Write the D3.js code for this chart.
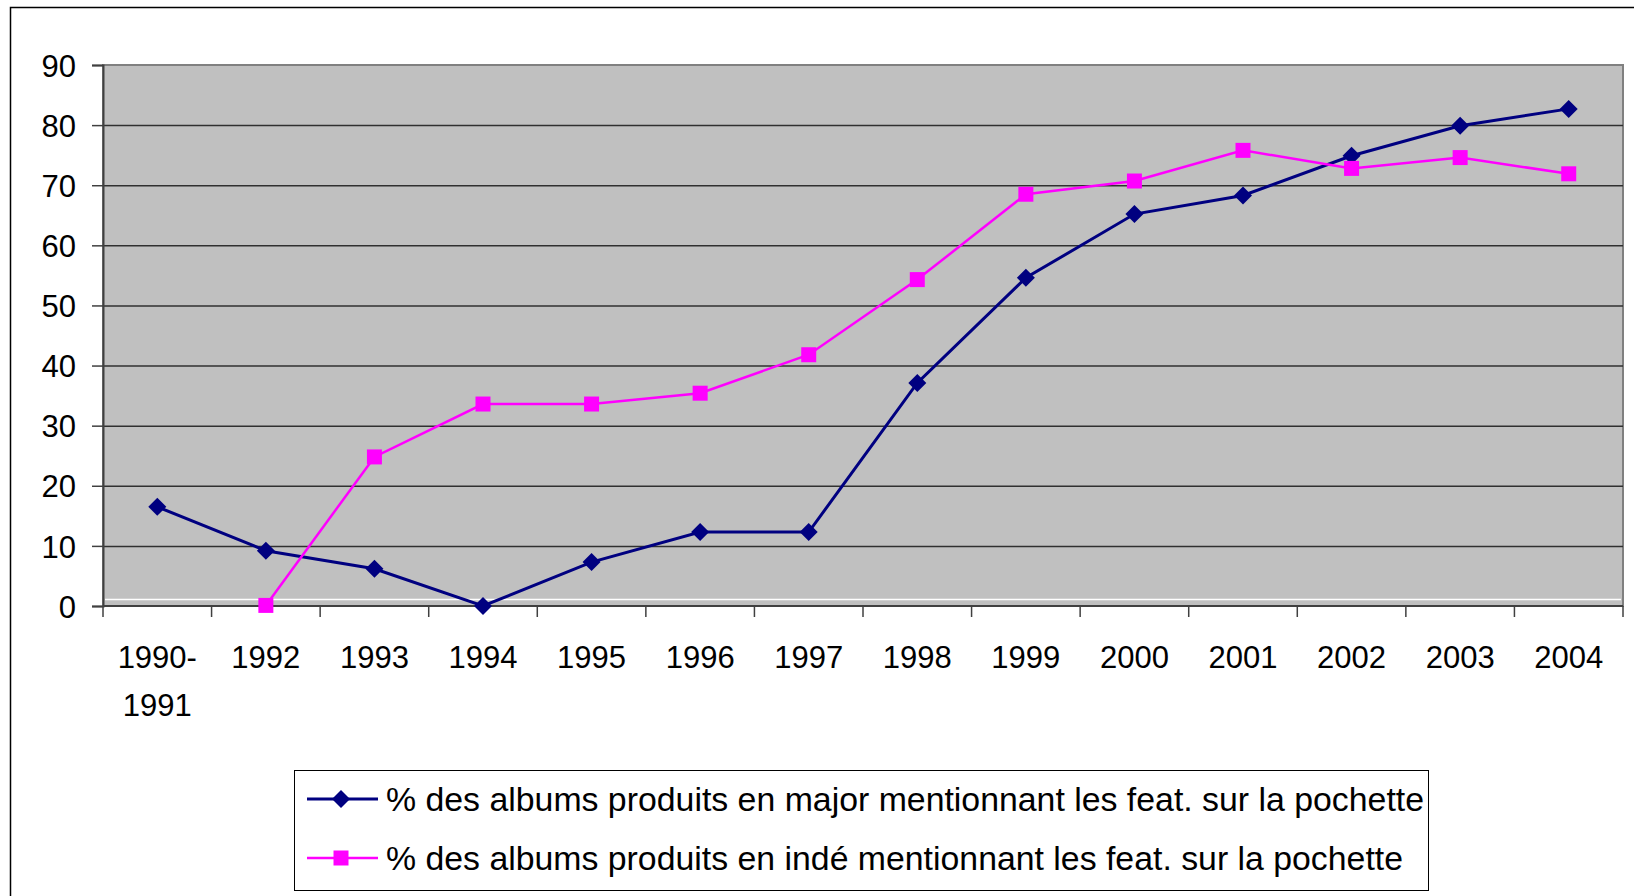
<!DOCTYPE html>
<html>
<head>
<meta charset="utf-8">
<script src="https://cdn.jsdelivr.net/npm/d3@7"></script>
<style>
  body { margin: 0; background: #fff; }
  svg { display: block; font-family: "Liberation Sans", Arial, sans-serif; }
</style>
</head>
<body>
<div class="line-chart"></div>
<script>
const years = ['1990-\n1991', '1992', '1993', '1994', '1995', '1996', '1997',
  '1998', '1999', '2000', '2001', '2002', '2003', '2004'];
const majorValues = [16.5, 9.2, 6.2, 0, 7.3, 12.3, 12.3, 37.1, 54.6, 65.2, 68.3, 74.9, 79.9, 82.7];
const indeValues = [null, 0.1, 24.8, 33.6, 33.6, 35.4, 41.8, 54.3, 68.5, 70.7, 75.8, 72.8, 74.6, 71.9];
const yTicks = [0, 10, 20, 30, 40, 50, 60, 70, 80, 90];
const seriesNames = [
  '% des albums produits en major mentionnant les feat. sur la pochette',
  '% des albums produits en indé mentionnant les feat. sur la pochette'
];

const width = 1634;
const height = 896;
const fontSize = 31;

const svg = d3.select('.line-chart')
  .append('svg')
  .attr('width', width)
  .attr('height', height);

// outer chart frame (runs off the right and bottom edges)
svg.append('rect')
  .attr('x', 10.5).attr('y', 7.5)
  .attr('width', 1700).attr('height', 1000)
  .attr('fill', 'none')
  .attr('stroke', '#000')
  .attr('stroke-width', 1.5);

const x = d3.scaleBand()
  .domain(years)
  .range([103, 1623])
  .padding(0);

const y = d3.scaleLinear()
  .domain([0, 90])
  .range([606, 65]);

// plot area
svg.append('rect')
  .attr('x', x.range()[0]).attr('y', y(90))
  .attr('width', x.range()[1] - x.range()[0])
  .attr('height', y(0) - y(90))
  .attr('fill', '#c0c0c0')
  .attr('stroke', '#808080')
  .attr('stroke-width', 2);

// gridlines
svg.append('g')
  .selectAll('line')
  .data(yTicks.filter(d => d > 0 && d < 90))
  .enter()
  .append('line')
  .attr('x1', x.range()[0]).attr('x2', x.range()[1])
  .attr('y1', d => y(d) + 0.5).attr('y2', d => y(d) + 0.5)
  .attr('stroke', '#303030')
  .attr('stroke-width', 1.5);

// thin white line just above the base
svg.append('line')
  .attr('x1', x.range()[0] + 2).attr('x2', x.range()[1] - 2)
  .attr('y1', y(0) - 6.5).attr('y2', y(0) - 6.5)
  .attr('stroke', '#fff')
  .attr('stroke-width', 1.5);

// y axis
const yAxis = svg.append('g')
  .attr('transform', `translate(${x.range()[0]},0)`)
  .call(d3.axisLeft(y).tickValues(yTicks).tickSize(11).tickPadding(16));
yAxis.select('.domain').attr('stroke', '#404040').attr('stroke-width', 2);
yAxis.selectAll('.tick line').attr('stroke', '#404040').attr('stroke-width', 1.5);
yAxis.selectAll('.tick text')
  .attr('font-size', fontSize)
  .attr('font-family', '"Liberation Sans", Arial, sans-serif')
  .attr('fill', '#000')
  .attr('dy', '0.36em');

// x axis baseline and boundary ticks
svg.append('line')
  .attr('x1', x.range()[0]).attr('x2', x.range()[1])
  .attr('y1', y(0)).attr('y2', y(0))
  .attr('stroke', '#404040')
  .attr('stroke-width', 2);

const boundaries = years.map(d => x(d)).concat([x.range()[1]]);
svg.append('g')
  .selectAll('line')
  .data(boundaries)
  .enter()
  .append('line')
  .attr('x1', d => d).attr('x2', d => d)
  .attr('y1', y(0)).attr('y2', y(0) + 11)
  .attr('stroke', '#404040')
  .attr('stroke-width', 1.5);

// x labels
const xLabels = svg.append('g')
  .selectAll('text')
  .data(years)
  .enter()
  .append('text')
  .attr('text-anchor', 'middle')
  .attr('font-size', fontSize)
  .attr('fill', '#000')
  .attr('x', d => x(d) + x.bandwidth() / 2)
  .attr('y', 668);

xLabels.each(function (d) {
  const parts = d.split('\n');
  d3.select(this).selectAll('tspan')
    .data(parts)
    .enter()
    .append('tspan')
    .attr('x', x(d) + x.bandwidth() / 2)
    .attr('dy', (p, i) => i === 0 ? 0 : 48)
    .text(p => p);
});

const cx = i => x(years[i]) + x.bandwidth() / 2;

const line = d3.line()
  .defined(d => d != null)
  .x((d, i) => cx(i))
  .y(d => y(d));

const series = [
  { name: seriesNames[0], values: majorValues, color: '#000080', width: 3, symbol: 'diamond', textLen: 1038 },
  { name: seriesNames[1], values: indeValues, color: '#ff00ff', width: 2.5, symbol: 'square', textLen: 1017 }
];

const diamond = 'M0,-9L9,0L0,9L-9,0Z';
const square = 'M-7.5,-7.5H7.5V7.5H-7.5Z';

series.forEach(s => {
  svg.append('path')
    .datum(s.values)
    .attr('fill', 'none')
    .attr('stroke', s.color)
    .attr('stroke-width', s.width)
    .attr('d', line);

  svg.append('g')
    .selectAll('path')
    .data(s.values.map((v, i) => ({ v, i })).filter(d => d.v != null))
    .enter()
    .append('path')
    .attr('d', s.symbol === 'diamond' ? diamond : square)
    .attr('fill', s.color)
    .attr('transform', d => `translate(${cx(d.i)},${y(d.v)})`);
});

// legend
const legend = svg.append('g');
legend.append('rect')
  .attr('x', 294.5).attr('y', 770.5)
  .attr('width', 1134).attr('height', 120)
  .attr('fill', '#fff')
  .attr('stroke', '#000')
  .attr('stroke-width', 1);

series.forEach((s, i) => {
  const ly = 799 + i * 59;
  legend.append('line')
    .attr('x1', 307).attr('x2', 378)
    .attr('y1', ly).attr('y2', ly)
    .attr('stroke', s.color)
    .attr('stroke-width', s.width);
  legend.append('path')
    .attr('d', s.symbol === 'diamond' ? diamond : square)
    .attr('fill', s.color)
    .attr('transform', `translate(341,${ly})`);
  legend.append('text')
    .attr('x', 386)
    .attr('y', ly)
    .attr('dy', '0.36em')
    .attr('font-size', 33)
    .attr('textLength', s.textLen)
    .attr('lengthAdjust', 'spacingAndGlyphs')
    .attr('fill', '#000')
    .text(s.name);
});
</script>
</body>
</html>
